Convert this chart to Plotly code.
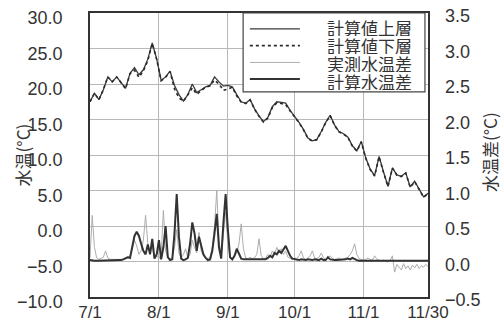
import pandas as pd
import plotly.graph_objects as go

# Computed water temperature, upper / lower layer (every 2 days, 7/1 - 11/30)
temp_dates = pd.date_range("2023-07-01", "2023-11-30", freq="2D")
upper_layer = [17.5, 18.7, 17.8, 19.2, 21.0, 20.3, 21.0, 20.2, 19.4, 21.5,
               22.3, 21.3, 22.0, 23.5, 25.8, 23.5, 20.5, 21.0, 21.8, 19.8,
               18.5, 17.6, 18.5, 20.0, 18.8, 19.2, 19.6, 19.8, 21.0, 20.3,
               19.7, 19.8, 19.6, 18.5, 17.5, 17.3, 17.8, 16.5, 15.5, 14.7,
               15.3, 16.8, 17.5, 17.4, 17.3, 16.3, 15.5, 14.6, 13.6, 12.4,
               12.0, 12.2, 13.3, 14.6, 15.6, 14.2, 13.3, 13.0, 12.5, 11.3,
               10.6, 11.9, 9.6, 8.0, 7.1, 9.8, 7.6, 5.6, 8.2, 7.2,
               7.0, 7.5, 5.5, 6.3, 5.2, 4.1, 4.6]
lower_layer = [17.5, 18.7, 17.8, 19.2, 21.0, 20.3, 21.0, 20.2, 19.35, 21.45,
               21.95, 20.95, 21.85, 23.3, 25.7, 23.45, 20.45, 20.95, 21.75, 19.3,
               18.05, 17.55, 18.45, 19.45, 18.55, 19.05, 19.55, 19.75, 20.55, 20.0,
               19.1, 19.3, 19.55, 18.3, 17.45, 17.25, 17.75, 16.45, 15.45, 14.65,
               15.2, 16.7, 17.35, 17.25, 17.1, 16.2, 15.45, 14.55, 13.55, 12.35,
               11.95, 12.15, 13.25, 14.55, 15.55, 14.15, 13.25, 12.95, 12.45, 11.25,
               10.55, 11.85, 9.55, 7.95, 7.05, 9.75, 7.55, 5.55, 8.15, 7.15,
               6.95, 7.45, 5.45, 6.25, 5.15, 4.05, 4.55]

# Daily upper-lower temperature difference: measured and computed
diff_dates = pd.date_range("2023-07-01", "2023-11-30", freq="D")
measured_diff = [0.05, 0.65, 0.2, 0.05, 0.03, 0.04, 0.06, 0.15, 0.05, 0.03,
                 0.03, 0.02, 0.03, 0.02, 0.03, 0.04, 0.05, 0.06, 0.08, 0.18,
                 0.3, 0.22, 0.1, 0.15, 0.3, 0.65, 0.25, 0.12, 0.2, 0.05,
                 0.08, 0.04, 0.1, 0.72, 0.15, 0.05, 0.04, 0.05, 0.2, 0.45,
                 0.12, 0.05, 0.1, 0.18, 0.05, 0.1, 0.3, 0.2, 0.12, 0.41,
                 0.15, 0.08, 0.05, 0.04, 0.06, 0.2, 0.5, 1.0, 0.3, 0.08,
                 0.4, 0.7, 0.25, 0.05, 0.04, 0.08, 0.12, 0.25, 0.53, 0.18,
                 0.05, 0.04, 0.06, 0.04, 0.05, 0.1, 0.32, 0.08, 0.04, 0.05,
                 0.1, 0.06, 0.15, 0.1, 0.2, 0.12, 0.18, 0.1, 0.15, 0.06,
                 0.04, 0.03, 0.05, 0.04, 0.08, 0.15, 0.05, 0.03, 0.05, 0.08,
                 0.15, 0.05, 0.04, 0.06, 0.12, 0.05, 0.03, 0.05, 0.08, 0.04,
                 0.03, 0.04, 0.05, 0.03, 0.03, 0.05, 0.06, 0.1, 0.15, 0.25,
                 0.1, 0.04, 0.03, 0.02, 0.03, 0.05, 0.03, 0.02, 0.08, 0.03,
                 0.02, 0.01, 0.02, 0.0, -0.01, 0.02, 0.08, -0.15, -0.04, -0.08,
                 -0.12, -0.03, -0.1, -0.06, -0.12, -0.05, -0.09, -0.04, -0.1, -0.06,
                 -0.08, -0.04, -0.07]
computed_diff = [0.02, 0.01, 0.01, 0.01, 0.01, 0.01, 0.01, 0.01, 0.01, 0.01,
                 0.01, 0.01, 0.01, 0.01, 0.02, 0.03, 0.05, 0.06, 0.05, 0.2,
                 0.36, 0.42, 0.36, 0.25, 0.15, 0.1, 0.24, 0.1, 0.32, 0.04,
                 0.1, 0.3, 0.03, 0.2, 0.5, 0.06, 0.02, 0.03, 0.4, 0.95,
                 0.35, 0.04, 0.02, 0.03, 0.05, 0.25, 0.55, 0.4, 0.15, 0.35,
                 0.2, 0.1, 0.05, 0.02, 0.03, 0.15, 0.4, 0.67, 0.2, 0.04,
                 0.55, 0.95, 0.45, 0.06, 0.03, 0.08, 0.18, 0.12, 0.04, 0.03,
                 0.03, 0.02, 0.02, 0.03, 0.02, 0.02, 0.03, 0.02, 0.02, 0.03,
                 0.05, 0.08, 0.06, 0.12, 0.1, 0.15, 0.12, 0.18, 0.22, 0.15,
                 0.08, 0.04, 0.03, 0.02, 0.02, 0.03, 0.02, 0.02, 0.03, 0.02,
                 0.02, 0.03, 0.02, 0.02, 0.04, 0.02, 0.02, 0.06, 0.03, 0.02,
                 0.02, 0.02, 0.02, 0.02, 0.02, 0.03, 0.04, 0.03, 0.05, 0.03,
                 0.02, 0.01, 0.01, 0.01, 0.01, 0.01, 0.01, 0.01, 0.01, 0.01,
                 0.01, 0.01, 0.01, 0.01, 0.01, 0.01, 0.01, 0.01, 0.01, 0.01,
                 0.01, 0.01, 0.01, 0.01, 0.01, 0.01, 0.01, 0.01, 0.01, 0.01,
                 0.01, 0.01, 0.01]

tick_dates = ["2023-07-01", "2023-08-01", "2023-09-01", "2023-10-01",
              "2023-11-01", "2023-11-30"]
tick_labels = ["7/1", "8/1", "9/1", "10/1", "11/1", "11/30"]

series_names = ["計算値上層", "計算値下層", "実測水温差", "計算水温差"]
series_styles = [
    dict(color="#3a3a3a", width=1.3, dash="solid"),
    dict(color="#2a2a2a", width=1.6, dash="dot"),
    dict(color="#adadad", width=1.0, dash="solid"),
    dict(color="#333333", width=2.0, dash="solid"),
]

FONT = "Liberation Sans, Arial, Noto Sans CJK JP, sans-serif"
CJK = "Noto Sans CJK JP, sans-serif"
INK = "#333333"
GRID = "#b8b8b8"

fig = go.Figure()
fig.add_trace(go.Scatter(x=diff_dates, y=measured_diff, yaxis="y2", mode="lines",
                         name=series_names[2], line=series_styles[2]))
fig.add_trace(go.Scatter(x=diff_dates, y=computed_diff, yaxis="y2", mode="lines",
                         name=series_names[3], line=series_styles[3]))
fig.add_trace(go.Scatter(x=temp_dates, y=upper_layer, mode="lines",
                         name=series_names[0], line=series_styles[0]))
fig.add_trace(go.Scatter(x=temp_dates, y=lower_layer, mode="lines",
                         name=series_names[1], line=series_styles[1]))

# Hand-drawn legend box in the upper right of the plot area
box_x0, box_x1, box_y0, box_y1 = 0.453, 0.991, 0.722, 1.0
shapes = [dict(type="rect", xref="paper", yref="paper", x0=box_x0, x1=box_x1,
               y0=box_y0, y1=box_y1, line=dict(color="#444444", width=1.2),
               fillcolor="white", layer="above")]
annotations = []
row_line_y = [0.944, 0.885, 0.826, 0.768]
row_text_y = [0.949, 0.885, 0.822, 0.758]
for name, style, ly, ty in zip(series_names, series_styles, row_line_y, row_text_y):
    shapes.append(dict(type="line", xref="paper", yref="paper", x0=0.473, x1=0.621,
                       y0=ly, y1=ly, layer="above",
                       line=dict(color=style["color"], width=style["width"],
                                 dash=style["dash"])))
    annotations.append(dict(xref="paper", yref="paper", x=0.956, y=ty, text=name,
                            showarrow=False, xanchor="right", yanchor="middle",
                            height=17, valign="middle", borderpad=0,
                            font=dict(family=CJK, size=17, color=INK)))

# Axis titles
annotations.append(dict(xref="paper", yref="paper", x=-0.2, y=0.5, text="水温(°C)",
                        textangle=-90, showarrow=False, xanchor="center",
                        yanchor="middle", font=dict(family=CJK, size=17, color=INK)))
annotations.append(dict(xref="paper", yref="paper", x=1.180, y=0.51, text="水温差(°C)",
                        textangle=-90, showarrow=False, xanchor="center",
                        yanchor="middle", font=dict(family=CJK, size=17, color=INK)))

fig.update_layout(
    width=502, height=325,
    margin=dict(l=90, r=74, t=13, b=28, autoexpand=False),
    paper_bgcolor="white", plot_bgcolor="white",
    showlegend=False,
    font=dict(family=FONT, size=18, color=INK),
    shapes=shapes, annotations=annotations,
    xaxis=dict(type="date", range=["2023-07-01", "2023-11-30"],
               tickvals=tick_dates, ticktext=tick_labels, automargin=False,
               tickfont=dict(size=17),
               showgrid=True, gridcolor=GRID, gridwidth=1,
               showline=True, linecolor="#333333", linewidth=1.5, mirror=True,
               ticks="", ticklabelstandoff=-1, zeroline=False),
    yaxis=dict(range=[-10, 30], dtick=5, tickformat=".1f", automargin=False,
               showgrid=True, gridcolor=GRID, gridwidth=1,
               showline=True, linecolor="#333333", linewidth=1.5, mirror=True,
               ticks="", ticklabelstandoff=22, ticklabelshift=5, zeroline=False),
    yaxis2=dict(range=[-0.5, 3.5], dtick=0.5, tickformat=".1f", automargin=False,
                overlaying="y", side="right", showgrid=False, zeroline=False,
                ticks="", ticklabelstandoff=16, ticklabelshift=3),
)

fig.write_html("out.html")
